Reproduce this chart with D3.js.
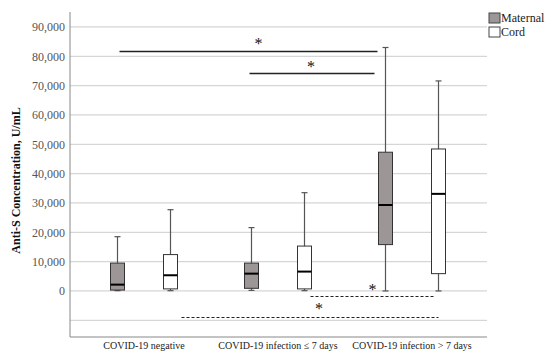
<!DOCTYPE html>
<html lang="en">
<head>
<meta charset="UTF-8">
<title>Anti-S concentration box plot</title>
<script src="https://cdn.jsdelivr.net/npm/d3@7"></script>
<style>
  body { margin: 0; background: #fff; }
  svg text { font-family: "Liberation Serif", "Times New Roman", serif; }
</style>
</head>
<body>
<script>
// categories and series
var categories = ["COVID-19 negative", "COVID-19 infection \u2264 7 days", "COVID-19 infection > 7 days"];
var groups = ["Maternal", "Cord"];

// box stats, in U/mL, one row per category: [min, q1, median, q3, max]
var maternal = [
  [100, 300, 2150, 9500, 18500],
  [200, 900, 5900, 9500, 21600],
  [0, 15800, 29300, 47300, 83000]
];
var cord = [
  [100, 700, 5350, 12400, 27700],
  [100, 700, 6600, 15300, 33500],
  [0, 5900, 33100, 48400, 71600]
];

var yTicks = [0, 10000, 20000, 30000, 40000, 50000, 60000, 70000, 80000, 90000];
var yGrid = [-10000, 0, 10000, 20000, 30000, 40000, 50000, 60000, 70000, 80000, 90000];

// significance bars: from box -> to box, level in U/mL
var sigFrom = [[0, "Maternal"], [1, "Maternal"], [1, "Cord"], [0, "Cord"]];
var sigTo = [[2, "Maternal"], [2, "Maternal"], [2, "Cord"], [2, "Cord"]];
var sigLevel = [81800, 74200, -1800, -8800];
var sigDashed = [false, false, true, true];

function draw() {
  var W = 550, H = 360;
  var svg = d3.select("body").append("svg").attr("width", W).attr("height", H);

  var left = 70, right = 487, top = 12, bottom = 337;

  var y = d3.scaleLinear().domain([-15700, 95100]).range([bottom, top]);
  var x = d3.scaleBand().domain(categories).range([77, 479]);
  var sub = d3.scalePoint().domain(groups).range([-26.5, 26.5]);

  function cx(ci, g) { return x(categories[ci]) + x.bandwidth() / 2 + sub(g); }

  // gridlines
  svg.append("g").selectAll("line").data(yGrid).enter().append("line")
    .attr("x1", left).attr("x2", right)
    .attr("y1", function(d) { return y(d); }).attr("y2", function(d) { return y(d); })
    .attr("stroke", "#d6d6d6").attr("stroke-width", 1.3);

  // y axis
  var yAxis = d3.axisLeft(y).tickValues(yTicks).tickSize(0).tickPadding(5)
    .tickFormat(d3.format(","));
  var gy = svg.append("g").attr("transform", "translate(" + left + ",0)").call(yAxis);
  gy.select(".domain").remove();
  gy.selectAll("text").attr("font-size", 12).attr("fill", "#555")
    .style("font-family", "Liberation Serif, serif");

  // x axis
  var xAxis = d3.axisBottom(x).tickSize(0).tickPadding(5);
  var gx = svg.append("g").attr("transform", "translate(0," + bottom + ")").call(xAxis);
  gx.select(".domain").remove();
  gx.selectAll("text").attr("font-size", 10).attr("fill", "#222")
    .style("font-family", "Liberation Serif, serif");

  // axis lines
  svg.append("line").attr("x1", left).attr("x2", left).attr("y1", top).attr("y2", bottom)
    .attr("stroke", "#888").attr("stroke-width", 1);
  svg.append("line").attr("x1", left).attr("x2", right).attr("y1", bottom).attr("y2", bottom)
    .attr("stroke", "#888").attr("stroke-width", 1);

  // y title
  svg.append("text")
    .attr("transform", "translate(20," + ((top + bottom) / 2 + 6) + ") rotate(-90)")
    .attr("text-anchor", "middle")
    .attr("font-size", 12).attr("font-weight", "bold").attr("fill", "#111")
    .text("Anti-S Concentration, U/mL");

  // boxes
  var boxes = [];
  categories.forEach(function(c, i) {
    boxes.push({ ci: i, g: "Maternal", s: maternal[i] });
    boxes.push({ ci: i, g: "Cord", s: cord[i] });
  });
  var bw = 14, cap = 6;
  var fills = { Maternal: "#9c9696", Cord: "#ffffff" };

  var bg = svg.append("g").selectAll("g").data(boxes).enter().append("g");
  bg.append("line")
    .attr("x1", function(d) { return cx(d.ci, d.g); }).attr("x2", function(d) { return cx(d.ci, d.g); })
    .attr("y1", function(d) { return y(d.s[4]); }).attr("y2", function(d) { return y(d.s[0]); })
    .attr("stroke", "#555").attr("stroke-width", 1.2);
  bg.append("line")
    .attr("x1", function(d) { return cx(d.ci, d.g) - cap / 2; }).attr("x2", function(d) { return cx(d.ci, d.g) + cap / 2; })
    .attr("y1", function(d) { return y(d.s[4]); }).attr("y2", function(d) { return y(d.s[4]); })
    .attr("stroke", "#555").attr("stroke-width", 1.2);
  bg.append("line")
    .attr("x1", function(d) { return cx(d.ci, d.g) - cap / 2; }).attr("x2", function(d) { return cx(d.ci, d.g) + cap / 2; })
    .attr("y1", function(d) { return y(d.s[0]); }).attr("y2", function(d) { return y(d.s[0]); })
    .attr("stroke", "#555").attr("stroke-width", 1.2);
  bg.append("rect")
    .attr("x", function(d) { return cx(d.ci, d.g) - bw / 2; })
    .attr("width", bw)
    .attr("y", function(d) { return y(d.s[3]); })
    .attr("height", function(d) { return y(d.s[1]) - y(d.s[3]); })
    .attr("fill", function(d) { return fills[d.g]; })
    .attr("stroke", "#333").attr("stroke-width", 1);
  bg.append("line")
    .attr("x1", function(d) { return cx(d.ci, d.g) - bw / 2; }).attr("x2", function(d) { return cx(d.ci, d.g) + bw / 2; })
    .attr("y1", function(d) { return y(d.s[2]); }).attr("y2", function(d) { return y(d.s[2]); })
    .attr("stroke", "#000").attr("stroke-width", 2);

  // significance bars
  var padL = [2, -2, 6, 11], padR = [-8, -11, -4, 0];
  var starDx = [10, -1, 0, 9], starDy = [-3, -2, -2, -4];
  sigLevel.forEach(function(lv, i) {
    var x1 = cx(sigFrom[i][0], sigFrom[i][1]) + padL[i];
    var x2 = cx(sigTo[i][0], sigTo[i][1]) + padR[i];
    var ly = Math.round(y(lv)) + 0.5;
    svg.append("line").attr("x1", x1).attr("x2", x2).attr("y1", ly).attr("y2", ly)
      .attr("stroke", "#222").attr("stroke-width", sigDashed[i] ? 1.2 : 1.5)
      .attr("stroke-dasharray", sigDashed[i] ? "3,2" : null);
    svg.append("text")
      .attr("x", (x1 + x2) / 2 + starDx[i])
      .attr("y", ly + starDy[i])
      .attr("text-anchor", "middle")
      .attr("font-size", 16).attr("fill", "#111")
      .text("*");
  });

  // legend
  var lg = svg.append("g").selectAll("g").data(groups).enter().append("g")
    .attr("transform", function(d, i) { return "translate(489," + (13 + i * 14) + ")"; });
  lg.append("rect").attr("width", 11).attr("height", 10)
    .attr("fill", function(d) { return fills[d]; })
    .attr("stroke", "#444").attr("stroke-width", 1);
  lg.append("text").attr("x", 12).attr("y", 9).attr("font-size", 12).attr("fill", "#222")
    .text(function(d) { return d; });
}
draw();
</script>
</body>
</html>
